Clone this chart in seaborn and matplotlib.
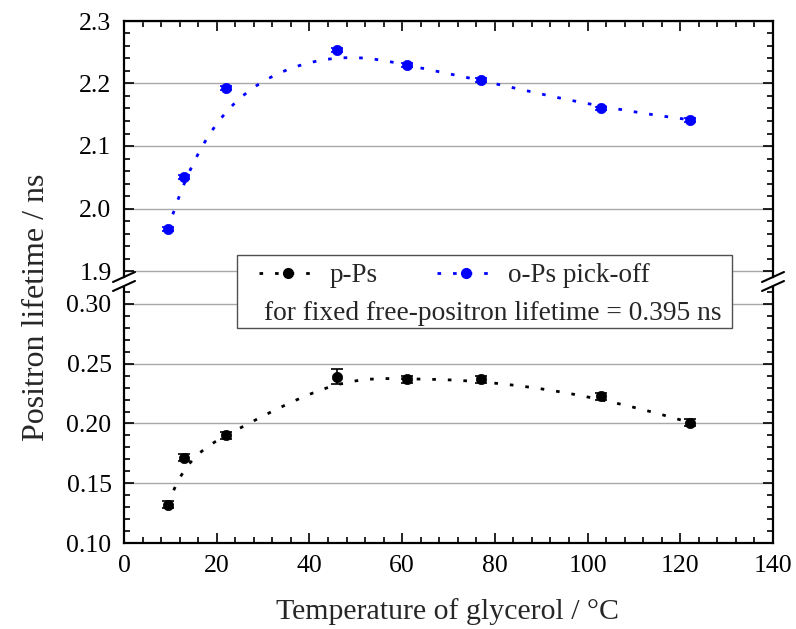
import numpy as np
import pandas as pd
import matplotlib.pyplot as plt
import seaborn as sns
from matplotlib.lines import Line2D
from matplotlib.patches import Rectangle
from matplotlib.ticker import MultipleLocator, FormatStrFormatter

sns.set_theme(style="ticks")
plt.rcParams['font.family'] = ['Liberation Serif', 'DejaVu Serif']
plt.rcParams['mathtext.fontset'] = 'stix'

# data
temperature = [9.5, 13, 22, 46, 61, 77, 103, 122]
ops_lifetime = [1.967, 2.051, 2.193, 2.2535, 2.229, 2.206, 2.160, 2.142]
ops_err = [0.003, 0.003, 0.003, 0.003, 0.003, 0.003, 0.003, 0.003]
pps_lifetime = [0.132, 0.1713, 0.190, 0.2393, 0.237, 0.237, 0.2226, 0.2008]
pps_err = [0.003, 0.003, 0.003, 0.006, 0.003, 0.003, 0.003, 0.003]

df = pd.DataFrame({'T': temperature, 'ops': ops_lifetime, 'ops_err': ops_err,
                   'pps': pps_lifetime, 'pps_err': pps_err})


def bspline(xs, ys, degree=3, n=400):
    # clamped uniform B-spline with the data points as control points (Origin "B-Spline" connect)
    pts = np.column_stack([xs, ys]).astype(float)
    m = len(pts)
    knots = np.concatenate([np.zeros(degree), np.arange(m - degree + 1),
                            np.full(degree, m - degree)]).astype(float)
    t = np.linspace(0, m - degree, n)

    def basis(i, k):
        if k == 0:
            res = ((knots[i] <= t) & (t < knots[i + 1])).astype(float)
            if knots[i] < knots[i + 1] and knots[i + 1] == knots[-1]:
                res[t == knots[-1]] = 1.0
            return res
        out = np.zeros_like(t)
        d1 = knots[i + k] - knots[i]
        if d1 > 0:
            out += (t - knots[i]) / d1 * basis(i, k - 1)
        d2 = knots[i + k + 1] - knots[i + 1]
        if d2 > 0:
            out += (knots[i + k + 1] - t) / d2 * basis(i + 1, k - 1)
        return out

    B = np.array([basis(i, degree) for i in range(m)])
    c = B.T @ pts
    return pd.DataFrame({'x': c[:, 0], 'y': c[:, 1]})


W_PX, H_PX = 796, 629
fig = plt.figure(figsize=(W_PX / 100, H_PX / 100), dpi=100)


def fx(px):
    return px / W_PX


def fy(py):
    return 1 - py / H_PX


left, right = 124, 773
ax_top = fig.add_axes([fx(left), fy(277), fx(right - left), (277 - 21) / H_PX])
ax_bot = fig.add_axes([fx(left), fy(543), fx(right - left), (543 - 287) / H_PX])

dots = (0, (1.3, 4.3))
series = [(ax_top, 'ops', 'ops_err', '#0000ff'), (ax_bot, 'pps', 'pps_err', 'black')]
for ax, col, ecol, color in series:
    curve = bspline(df['T'], df[col])
    sns.lineplot(data=curve, x='x', y='y', sort=False, ax=ax, color=color,
                 lw=2.0, linestyle=dots, zorder=3)
    ax.errorbar(df['T'], df[col], yerr=df[ecol], fmt='none', ecolor=color,
                elinewidth=1.2, capsize=4, capthick=1.2, zorder=4)
    sns.scatterplot(data=df, x='T', y=col, ax=ax, color=color, s=55,
                    edgecolor=color, linewidth=0.5, zorder=5)

for ax in (ax_top, ax_bot):
    ax.set_xlim(0, 140)
    ax.xaxis.set_major_locator(MultipleLocator(20))
    ax.xaxis.set_minor_locator(MultipleLocator(4))
    ax.yaxis.grid(True, color='#a8a8a8', lw=1)
    ax.xaxis.grid(False)
    ax.set_axisbelow(True)
    ax.set_xlabel('')
    ax.set_ylabel('')
    for s in ax.spines.values():
        s.set_linewidth(1.6)
        s.set_color('black')
    ax.tick_params(which='both', direction='in', left=True, right=True,
                   width=1.2, colors='black', labelsize=18.5)
    ax.tick_params(which='major', length=7.5, pad=9)
    ax.tick_params(which='minor', length=4.5)

ax_top.set_ylim(1.8904, 2.3)
ax_top.yaxis.set_major_locator(MultipleLocator(0.1))
ax_top.yaxis.set_minor_locator(MultipleLocator(0.02))
ax_top.yaxis.set_major_formatter(FormatStrFormatter('%.1f'))
ax_top.spines['bottom'].set_visible(False)
ax_top.tick_params(axis='x', which='both', bottom=False, top=True,
                   labelbottom=False, labeltop=False)

ax_bot.set_ylim(0.10, 0.3142)
ax_bot.yaxis.set_major_locator(MultipleLocator(0.05))
ax_bot.yaxis.set_minor_locator(MultipleLocator(0.01))
ax_bot.yaxis.set_major_formatter(FormatStrFormatter('%.2f'))
ax_bot.spines['top'].set_visible(False)
ax_bot.tick_params(axis='x', which='both', bottom=True, top=False)

# break marks on both y spines
for cx in (left, right):
    for dy in (0, 9):
        fig.add_artist(Line2D([fx(cx - 11), fx(cx + 11)], [fy(282 + dy), fy(272 + dy)],
                              color='black', lw=1.5, transform=fig.transFigure))

# legend box spanning the break
fig.add_artist(Rectangle((fx(237), fy(328)), fx(732 - 237), 73 / H_PX,
                         transform=fig.transFigure, facecolor='white',
                         edgecolor='#505050', lw=1.0, zorder=4))
handles = [Line2D([], [], color='black', lw=2.0, linestyle=dots, marker='o', markersize=7),
           Line2D([], [], color='#0000ff', lw=2.0, linestyle=dots, marker='o', markersize=7)]
leg = fig.legend(handles, ['p-Ps', 'o-Ps pick-off'], ncol=2, frameon=False,
                 loc='center left', bbox_to_anchor=(fx(259), fy(276)),
                 fontsize=19.5, handlelength=2.15, handletextpad=0.45,
                 columnspacing=2.2, borderpad=0, borderaxespad=0)
leg.set_zorder(5)
fig.text(fx(264), fy(314), 'for fixed free-positron lifetime = 0.395 ns',
         fontsize=19.7, ha='left', va='center', zorder=5)

fig.text(fx(37), fy(307), 'Positron lifetime / ns', rotation=90,
         fontsize=23, ha='center', va='center')
fig.text(fx(448), fy(612), 'Temperature of glycerol / °C',
         fontsize=21.5, ha='center', va='center')

fig.savefig('out.png', dpi=100)
